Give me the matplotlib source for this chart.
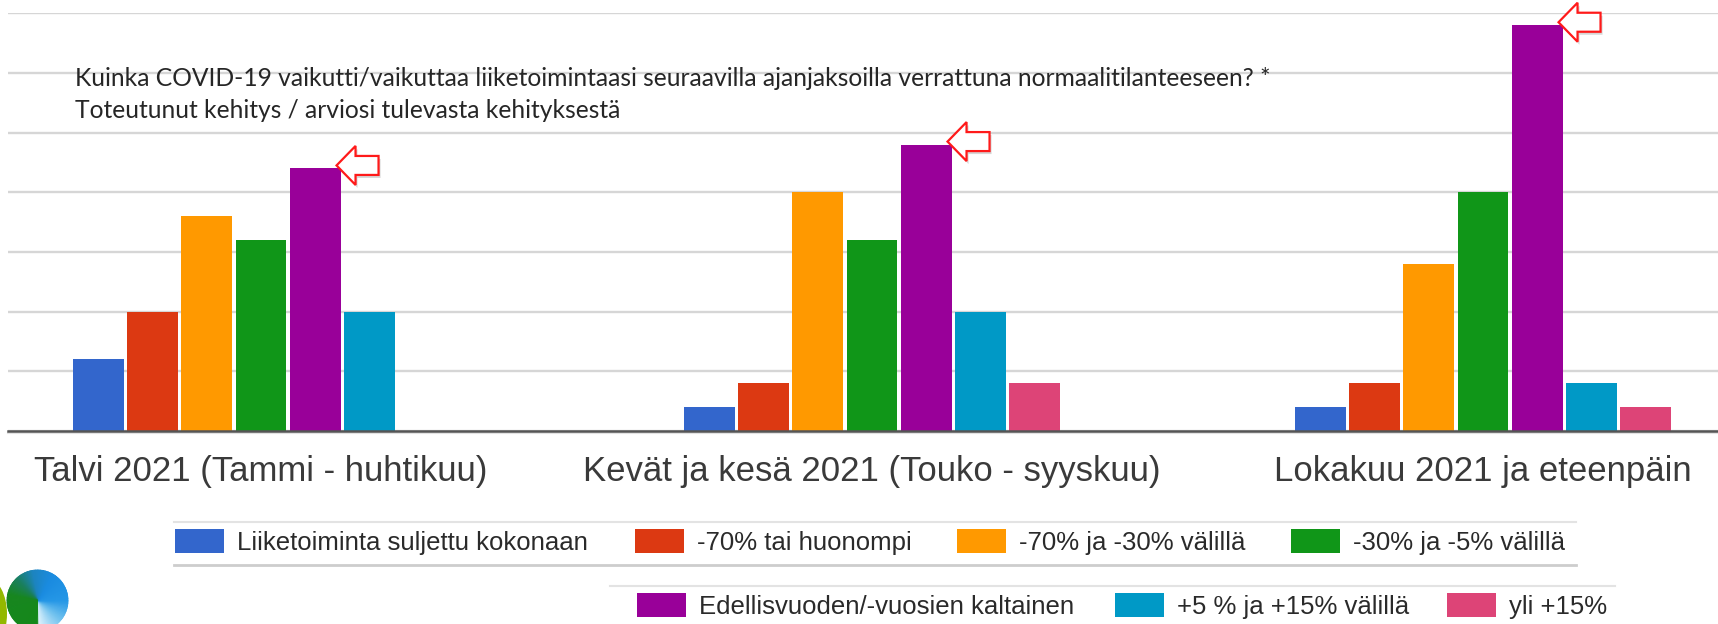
import matplotlib
matplotlib.use("Agg")
import matplotlib.pyplot as plt
from matplotlib import font_manager, transforms as mtransforms
from matplotlib.colors import to_rgb
from matplotlib.patches import Rectangle, Polygon, Wedge, Ellipse
from matplotlib.lines import Line2D
import numpy as np

# ---------------- data ----------------
categories = ["Talvi 2021 (Tammi - huhtikuu)",
              "Kevät ja kesä 2021 (Touko - syyskuu)",
              "Lokakuu 2021 ja eteenpäin"]
series_names = ["Liiketoiminta suljettu kokonaan",
                "-70% tai huonompi",
                "-70% ja -30% välillä",
                "-30% ja -5% välillä",
                "Edellisvuoden/-vuosien kaltainen",
                "+5 % ja +15% välillä",
                "yli +15%"]
suljettu = [3, 1, 1]
alle_70 = [5, 2, 2]
valilla_70_30 = [9, 10, 7]
valilla_30_5 = [8, 8, 10]
edellisvuosi = [11, 12, 17]
valilla_5_15 = [5, 5, 2]
yli_15 = [0, 2, 1]
series_values = [suljettu, alle_70, valilla_70_30, valilla_30_5,
                 edellisvuosi, valilla_5_15, yli_15]
colors = ["#3366cc", "#dc3912", "#ff9900", "#109618",
          "#990099", "#0099c6", "#dd4477"]
title_lines = ["Kuinka COVID-19 vaikutti/vaikuttaa liiketoimintaasi seuraavilla ajanjaksoilla verrattuna normaalitilanteeseen? *",
               "Toteutunut kehitys / arviosi tulevasta kehityksestä"]
y_max = 17.5
y_step = 2.5

# ---------------- fonts ----------------
names = {f.name for f in font_manager.fontManager.ttflist}
sans = "Liberation Sans" if "Liberation Sans" in names else "DejaVu Sans"
title_font = "Lato" if "Lato" in names else "DejaVu Sans"

W, H = 1718, 624
fig = plt.figure(figsize=(W / 100, H / 100), dpi=100)
fig.patch.set_facecolor("white")

ax_left, ax_right, ax_bottom, ax_top = 8, 1718, 431, 13.3
ax = fig.add_axes([ax_left / W, 1 - ax_bottom / H,
                   (ax_right - ax_left) / W, (ax_bottom - ax_top) / H])

# group layout (pixels -> data units)
px_per_unit = 611.0
first_center_px = 261.0
slot = 54.2 / px_per_unit
bw = slot * 0.935
x = np.arange(len(categories))
n = len(series_values)
for i, vals in enumerate(series_values):
    ax.bar(x + (i - (n - 1) / 2) * slot, vals, width=bw, color=colors[i],
           linewidth=0, zorder=3)

ax.set_xlim((ax_left - first_center_px) / px_per_unit,
            (ax_right - first_center_px) / px_per_unit)
ax.set_ylim(0, y_max)
ax.set_yticks(np.arange(0, y_max + 0.01, y_step))
ax.yaxis.grid(True, color="#d6d6d6", linewidth=1.7, zorder=0)
ax.set_axisbelow(True)
ax.tick_params(axis="y", left=False, labelleft=False)
for s in ax.spines.values():
    s.set_visible(False)
ax.axhline(0, color="#555555", linewidth=1.8, zorder=4, clip_on=False)
ax.axhline(-0.07, color="#e2e2e2", linewidth=1.5, zorder=2, clip_on=False)

ax.set_xticks(x)
ax.set_xticklabels(categories, fontsize=25, family=sans, color="#3a3a3a")
ax.tick_params(axis="x", length=0, pad=17.5)

# red outline arrows at the "Edellisvuoden" bars
L, hl, hw, tw = 42, 19, 19.5, 9.5
arrow_pts = np.array([[0, 0], [hl, hw], [hl, tw], [L, tw], [L, -tw],
                      [hl, -tw], [hl, -hw], [0, 0]]) + np.array([-4, 3])
purple = 4
for g in range(len(categories)):
    xr = x[g] + (purple - (n - 1) / 2) * slot + bw / 2
    anchor = mtransforms.ScaledTranslation(xr, edellisvuosi[g], ax.transData)
    shadow = Polygon(arrow_pts + np.array([2, -3]), closed=True,
                     transform=mtransforms.Affine2D() + anchor,
                     facecolor="#000000", alpha=0.16, edgecolor="none",
                     zorder=5, clip_on=False)
    arr = Polygon(arrow_pts, closed=True,
                  transform=mtransforms.Affine2D() + anchor,
                  facecolor="white", edgecolor="#ff1a1a", linewidth=1.6,
                  zorder=6, clip_on=False)
    ax.add_patch(shadow)
    ax.add_patch(arr)

# title text inside plot area
fig.text(75 / W, 1 - 86 / H, title_lines[0], family=title_font,
         fontsize=17.7, color="#262626", va="baseline", ha="left")
fig.text(75 / W, 1 - 118 / H, title_lines[1], family=title_font,
         fontsize=17.7, color="#262626", va="baseline", ha="left")

# ---------------- legend (two rows) ----------------
ident = mtransforms.IdentityTransform()
def hline(x0, x1, y, color, lw):
    fig.add_artist(Line2D([x0, x1], [H - y, H - y], color=color,
                          linewidth=lw, transform=ident))

hline(174, 1576, 522, "#e3e3e3", 1.5)
hline(174, 1576, 565, "#cdcdcd", 2.0)
hline(610, 1615, 586, "#e3e3e3", 1.5)

legend_rows = [[0, 1, 2, 3], [4, 5, 6]]
legend_left = [[175, 635, 957, 1291], [637, 1115, 1447]]
legend_yc = [540.5, 604.5]
for row, lefts, yc in zip(legend_rows, legend_left, legend_yc):
    for idx, xl in zip(row, lefts):
        fig.add_artist(Rectangle((xl, H - yc - 12), 49, 24,
                                 facecolor=colors[idx], edgecolor="none",
                                 transform=ident))
        fig.text((xl + 62) / W, 1 - yc / H, series_names[idx],
                 family=sans, fontsize=18.5, color="#2a2a2a",
                 va="center_baseline", ha="left")

# ---------------- logo fragment (bottom-left) ----------------
cx, cy, r = 37.5, H - 600.5, 30.5
fig.add_artist(Ellipse((-12, H - 614), 38, 70, facecolor="#93b800",
                       edgecolor="none", transform=ident))
stops_ang = [-90, -40, 0, 60, 100, 135, 170, 270]
stops_col = ["#e6f5fd", "#74c4ef", "#2597e6", "#1a8be0", "#1c84c0",
             "#1a7f5c", "#17861f", "#15881a"]
stops_rgb = np.array([to_rgb(c) for c in stops_col])
step = 3
for a in np.arange(-90, 270, step):
    am = a + step / 2
    c = tuple(np.interp(am, stops_ang, stops_rgb[:, k]) for k in range(3))
    fig.add_artist(Wedge((cx, cy), r, a, a + step + 0.8, facecolor=c,
                         edgecolor=c, linewidth=0.6, transform=ident))

fig.savefig("out.png", dpi=100, facecolor="white")
